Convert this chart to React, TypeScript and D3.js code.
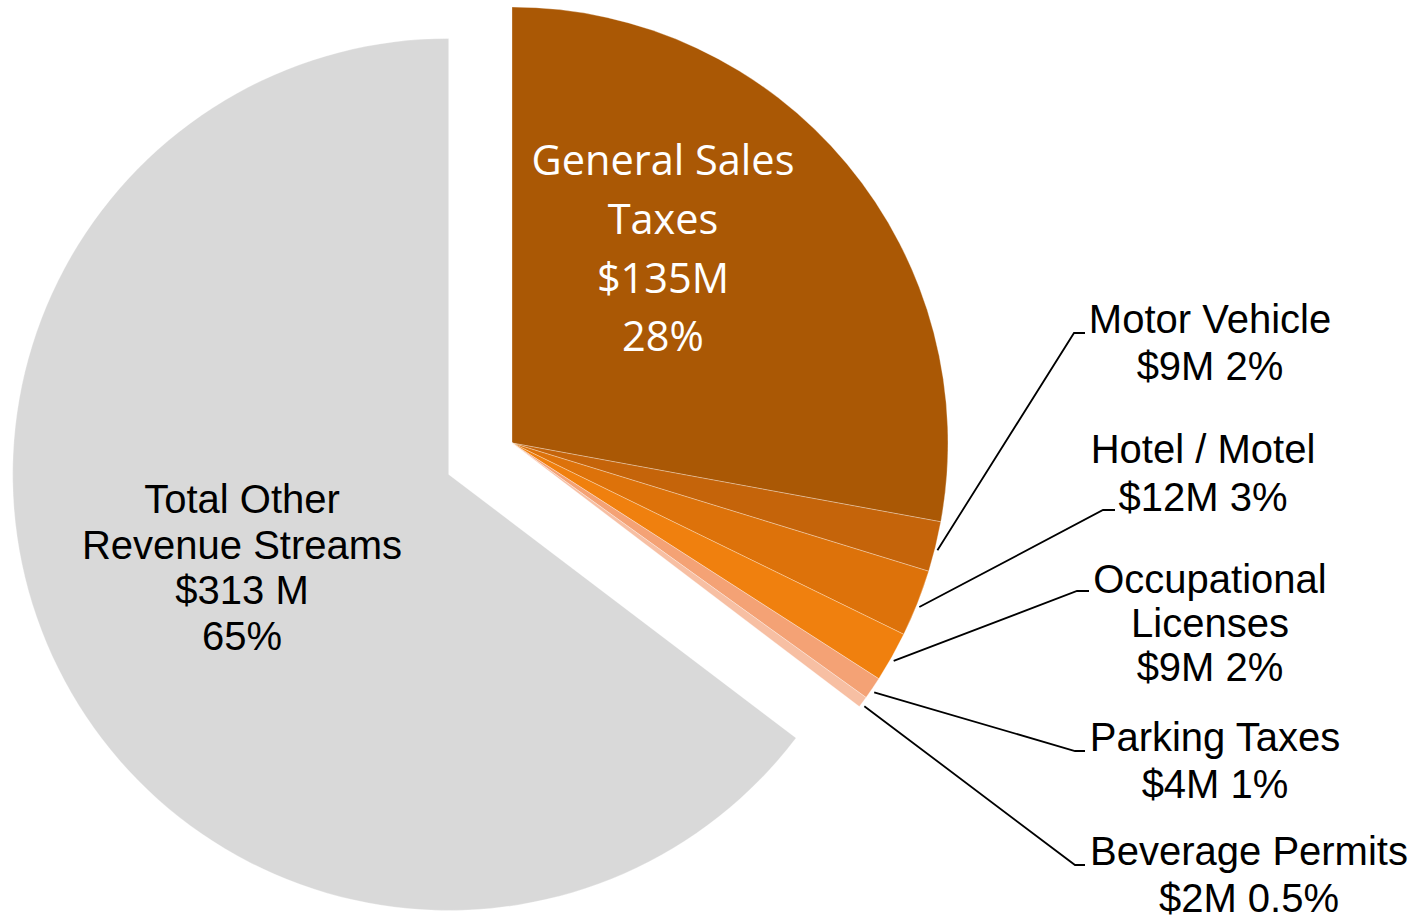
import React from "react";
import * as d3 from "d3";

const categories = [
  "General Sales Taxes",
  "Motor Vehicle",
  "Hotel / Motel",
  "Occupational Licenses",
  "Parking Taxes",
  "Beverage Permits",
  "Total Other Revenue Streams",
];
const values = [135, 9, 12, 9, 4, 2, 313];
const valueLabels = ["$135M", "$9M", "$12M", "$9M", "$4M", "$2M", "$313 M"];
const percentLabels = ["28%", "2%", "3%", "2%", "1%", "0.5%", "65%"];
const labelLines = [
  ["General Sales", "Taxes", "$135M", "28%"],
  ["Motor Vehicle", "$9M 2%"],
  ["Hotel / Motel", "$12M 3%"],
  ["Occupational", "Licenses", "$9M 2%"],
  ["Parking Taxes", "$4M 1%"],
  ["Beverage Permits", "$2M 0.5%"],
  ["Total Other", "Revenue Streams", "$313 M", "65%"],
];

const colors = ["#AA5805", "#C5640A", "#DD720A", "#F0800E", "#F4A275", "#F7BFA3", "#D9D9D9"];

// layout
const W = 1425;
const H = 917;
const CX = 512;
const CY = 443;
const R = 436;
const explode = [0, 0, 0, 0, 0, 0, 70.7];

type Layout = {
  x: number;
  y: number;
  gap: number;
  inside?: boolean;
  bend?: [number, number];
  end?: [number, number];
};
const layouts: Layout[] = [
  { x: 663, y: 175, gap: 58.8, inside: true },
  { x: 1210, y: 333, gap: 47, bend: [1074, 333], end: [1085, 333] },
  { x: 1203, y: 463, gap: 48, bend: [1103, 510], end: [1115, 510] },
  { x: 1210, y: 593, gap: 44, bend: [1077, 591], end: [1089, 591] },
  { x: 1215, y: 751, gap: 47, bend: [1075, 751], end: [1085, 751] },
  { x: 1249, y: 865, gap: 47, bend: [1075, 865], end: [1085, 865] },
  { x: 242, y: 513, gap: 45.7, inside: true },
];

export default function App() {
  const pie = d3
    .pie<number>()
    .sort(null)
    .value((d) => d)
    .startAngle(0)
    .endAngle(2 * Math.PI);
  const arcs = pie(values);
  const arc = d3.arc<d3.PieArcDatum<number>>().innerRadius(0).outerRadius(R);

  return (
    <svg
      width={W}
      height={H}
      style={{ position: "absolute", left: 0, top: 0, display: "block", background: "#fff" }}
    >
      {arcs.map((a, i) => {
        const mid = (a.startAngle + a.endAngle) / 2;
        const ox = CX + explode[i] * Math.sin(mid);
        const oy = CY - explode[i] * Math.cos(mid);
        return (
          <path
            key={categories[i]}
            d={arc(a) || ""}
            transform={`translate(${ox},${oy})`}
            fill={colors[i]}
            stroke="#ffffff"
            strokeOpacity={0.3}
            strokeWidth={1}
          />
        );
      })}
      {arcs.map((a, i) => {
        const L = layouts[i];
        if (!L.bend || !L.end) return null;
        const mid = (a.startAngle + a.endAngle) / 2;
        const sx = CX + (R + 2) * Math.sin(mid);
        const sy = CY - (R + 2) * Math.cos(mid) + 3;
        return (
          <polyline
            key={"l" + i}
            points={`${sx},${sy} ${L.bend[0]},${L.bend[1]} ${L.end[0]},${L.end[1]}`}
            fill="none"
            stroke="#000"
            strokeWidth={1.8}
          />
        );
      })}
      {labelLines.map((lines, i) => {
        const L = layouts[i];
        const white = i === 0;
        return (
          <text
            key={"t" + i}
            x={L.x}
            y={L.y}
            textAnchor="middle"
            fill={white ? "#ffffff" : "#000000"}
            fontFamily={white ? "'Open Sans', sans-serif" : "'Liberation Sans', Arial, sans-serif"}
            fontSize={white ? 41.5 : 40}
          >
            {lines.map((ln, j) => (
              <tspan key={j} x={L.x} y={L.y + j * L.gap}>
                {ln}
              </tspan>
            ))}
          </text>
        );
      })}
    </svg>
  );
}
